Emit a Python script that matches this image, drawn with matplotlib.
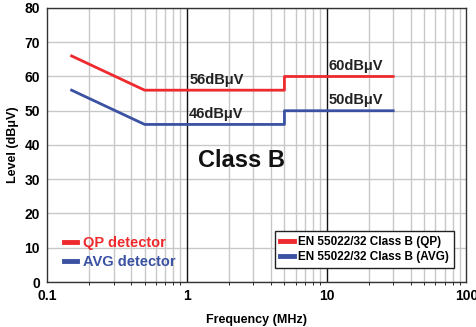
import matplotlib
matplotlib.use('Agg')
import matplotlib.pyplot as plt
from matplotlib.lines import Line2D
from matplotlib.ticker import FixedLocator, NullFormatter

plt.rcParams['font.family'] = ['Liberation Sans', 'DejaVu Sans']
plt.rcParams['font.weight'] = 'bold'

# EN 55022/32 class B conducted emission limits
freq_qp = [0.15, 0.5, 5, 5, 30]
level_qp = [66, 56, 56, 60, 60]
freq_avg = [0.15, 0.5, 5, 5, 30]
level_avg = [56, 46, 46, 50, 50]

RED = '#ee2a2e'
BLUE = '#3b52a3'

fig = plt.figure(figsize=(4.77, 3.27), dpi=100)
ax = fig.add_axes([0.0985, 0.1376, 0.879, 0.838])

ax.set_xscale('log')
ax.set_xlim(0.1, 100)
ax.set_ylim(0, 80)

# light minor grid, dark decade lines
minor = [m * 10.0 ** e for e in (-1, 0, 1) for m in range(2, 10)]
ax.xaxis.set_minor_locator(FixedLocator(minor))
ax.xaxis.set_minor_formatter(NullFormatter())
ax.set_xticks([0.1, 1, 10, 100])
ax.set_xticklabels(['0.1', '1', '10', '100'])
ax.set_yticks(range(0, 81, 10))
ax.grid(which='minor', axis='x', color='#c8c8c8', lw=1.0)
ax.grid(which='major', axis='y', color='#c8c8c8', lw=1.0)
for f in (1, 10):
    ax.axvline(f, color='#111111', lw=1.0, zorder=1)
ax.set_axisbelow(True)
for s in ax.spines.values():
    s.set_color('#333333')
    s.set_linewidth(1.0)
ax.tick_params(length=0, labelsize=10, pad=5)
for lab in ax.get_xticklabels() + ax.get_yticklabels():
    lab.set_fontweight('bold')

ax.plot(freq_qp, level_qp, color=RED, lw=2, zorder=3)
ax.plot(freq_avg, level_avg, color=BLUE, lw=2, zorder=3)

tk = dict(fontsize=10.5, fontweight='bold', color='#222222', ha='left', va='bottom')
ax.text(1.04, level_qp[1] + 1, '56dBμV', **tk)
ax.text(1.04, level_avg[1] + 1, '46dBμV', **tk)
ax.text(10.4, level_qp[3] + 1, '60dBμV', **tk)
ax.text(10.4, level_avg[3] + 1, '50dBμV', **tk)
ax.text(2.45, 35.5, 'Class B', fontsize=17, fontweight='bold', color='#111111',
        ha='center', va='center')

ax.set_xlabel('Frequency (MHz)', fontsize=9, fontweight='bold', labelpad=8)
ax.set_ylabel('Level (dBμV)', fontsize=9, fontweight='bold', labelpad=4)

# detector key, lower left
det = ax.legend([Line2D([], [], color=RED, lw=3.5), Line2D([], [], color=BLUE, lw=3.5)],
                ['QP detector', 'AVG detector'], loc='lower left',
                bbox_to_anchor=(0.01, 0.0), frameon=False, labelcolor='linecolor',
                handlelength=0.9, handletextpad=0.4, labelspacing=0.35,
                prop={'weight': 'bold', 'size': 10.5})
ax.add_artist(det)

# limit line key, lower right
leg = ax.legend([Line2D([], [], color=RED, lw=3.5), Line2D([], [], color=BLUE, lw=3.5)],
                ['EN 55022/32 Class B (QP)', 'EN 55022/32 Class B (AVG)'],
                loc='lower right', bbox_to_anchor=(0.985, 0.03), fancybox=False,
                edgecolor='#222222', framealpha=1, handlelength=1.2,
                handletextpad=0.4, labelspacing=0.25, borderpad=0.4,
                prop={'weight': 'bold', 'size': 8.5})
leg.get_frame().set_linewidth(1.0)

fig.savefig('out.png', dpi=100)
